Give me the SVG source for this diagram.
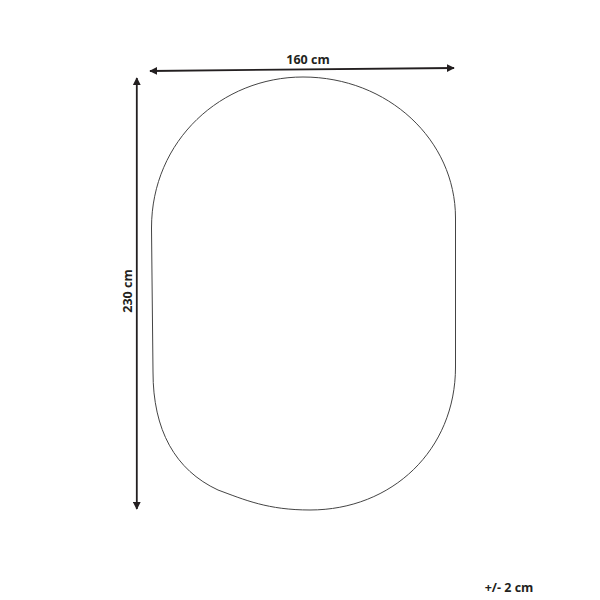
<svg xmlns="http://www.w3.org/2000/svg" width="600" height="600" viewBox="0 0 600 600">
<style>
.dim{stroke:#231f20;stroke-width:1.8;fill:none}
.lbl{font-family:"Open Sans","Liberation Sans",sans-serif;font-weight:bold;font-size:12.5px;fill:#231f20}
.outline{fill:none;stroke:#444;stroke-width:1}
</style>
<defs>
<marker id="ah" viewBox="0 0 10 10" refX="9" refY="5" markerWidth="4.5" markerHeight="4.5" orient="auto-start-reverse" markerUnits="strokeWidth">
<path d="M0,0 L10,5 L0,10 Z" fill="#231f20"/>
</marker>
</defs>
<rect width="600" height="600" fill="#fff"/>
<g id="rug">
<path class="outline" d="M151.5,228 C151.5,140 222,77 303,77 C388,77 455.5,140 455.5,218 L455.5,367 C455.5,450 392,510 310,510 C268,510 245,500 218,490 C175,470 153,430 153,372 Z"/>
</g>
<g id="connectors">
<line class="dim" x1="150" y1="71" x2="454" y2="68" marker-start="url(#ah)" marker-end="url(#ah)"/>
<line class="dim" x1="136.8" y1="78" x2="136.8" y2="509" marker-start="url(#ah)" marker-end="url(#ah)"/>
</g>
<g id="labels">
<text class="lbl" x="308" y="64" text-anchor="middle">160 cm</text>
<text class="lbl" transform="translate(131.5,291) rotate(-90)" text-anchor="middle">230 cm</text>
<text class="lbl" x="509" y="592" text-anchor="middle" font-size="11.5px">+/- 2 cm</text>
</g>
</svg>
